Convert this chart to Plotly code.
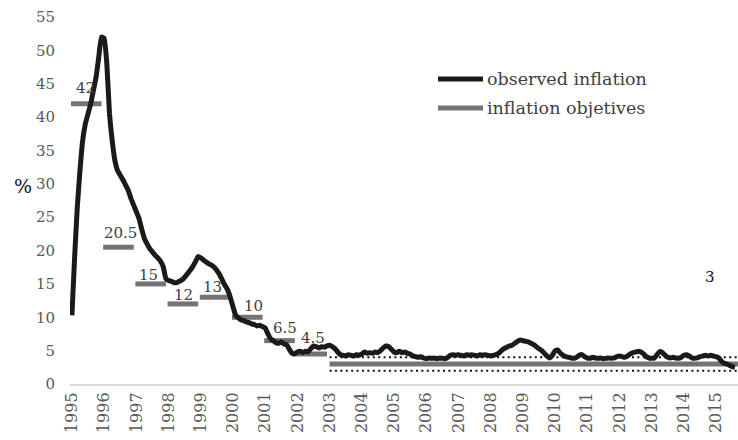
import plotly.graph_objects as go

# ---------------- data ----------------
start_year = 1995
observed = [
    10.3, 19.0, 26.5, 32.0, 36.5, 39.0, 40.5, 42.0, 44.0, 46.0, 49.0, 52.0,
    51.8, 48.0, 40.5, 36.5, 33.5, 32.0, 31.3, 30.6, 29.8, 29.0, 27.8, 26.8,
    25.8, 24.8, 23.2, 21.8, 21.0, 20.3, 19.8, 19.3, 18.9, 18.4, 17.6, 15.8,
    15.5, 15.4, 15.2, 15.2, 15.4, 15.6, 16.0, 16.5, 17.0, 17.6, 18.3, 19.1,
    18.9, 18.6, 18.3, 18.0, 17.8, 17.5, 17.0, 16.4, 15.6, 14.8, 14.1, 13.0,
    11.6, 10.3, 9.9, 9.6, 9.5, 9.3, 9.2, 9.0, 8.9, 8.7, 8.8, 8.6,
    8.4, 7.5, 6.8, 6.5, 6.2, 6.1, 6.3, 6.0, 5.9, 5.2, 4.6, 4.5,
    4.8, 4.9, 4.7, 4.9, 4.8, 5.3, 5.7, 5.6, 5.4, 5.6, 5.5, 5.7,
    5.8, 5.6, 5.3, 4.8, 4.4, 4.3, 4.2, 4.4, 4.3, 4.2, 4.4, 4.3,
    4.5, 4.8, 4.6, 4.7, 4.6, 4.8, 4.7, 5.0, 5.4, 5.7, 5.6, 5.2,
    4.8, 4.7, 4.9, 4.7, 4.8, 4.6, 4.5, 4.2, 4.1, 4.0, 4.1, 3.9,
    3.8, 3.9, 3.85, 3.9, 3.8, 3.9, 3.85, 3.8, 4.0, 4.3, 4.4, 4.3,
    4.4, 4.3, 4.2, 4.4, 4.3, 4.4, 4.3, 4.2, 4.4, 4.3, 4.4, 4.3,
    4.2, 4.3, 4.4, 4.6, 5.0, 5.3, 5.5, 5.7, 5.8, 6.1, 6.4, 6.6,
    6.5, 6.4, 6.3, 6.1, 5.9, 5.6, 5.3, 5.0, 4.6, 4.2, 3.9, 4.3,
    5.0, 5.1, 4.6, 4.3, 4.1, 4.0, 3.9, 3.85, 4.0, 4.3, 4.4, 4.1,
    3.9, 3.85, 4.0, 3.9, 3.85, 3.9, 3.8, 3.85, 3.9, 3.85, 3.9, 4.1,
    4.2, 4.1, 4.0, 4.2, 4.5, 4.7, 4.8, 4.9, 4.8, 4.5, 4.1, 3.9,
    3.85, 3.9, 4.4, 4.85, 4.7, 4.3, 4.0, 3.9, 4.0, 3.9, 3.85, 4.0,
    4.3, 4.4, 4.2, 3.9, 3.85, 3.9, 4.1, 4.2, 4.3, 4.2, 4.3, 4.2,
    4.1, 3.9, 3.4, 3.1, 3.0, 2.8, 2.6, 2.5,
]
target_years = [1995, 1996, 1997, 1998, 1999, 2000, 2001, 2002, 2003]
target_values = [42, 20.5, 15, 12, 13, 10, 6.5, 4.5, 3]
target_labels = ["42", "20.5", "15", "12", "13", "10", "6.5", "4.5", "3"]
band_low = 2
band_high = 4
tick_years = list(range(1995, 2016))

# ---------------- figure ----------------
x_min, x_max = 1994.94, 2015.68
months = [start_year + i / 12 for i in range(len(observed))]

fig = go.Figure()

# target segments
tx, ty = [], []
for i, (yr, v) in enumerate(zip(target_years, target_values)):
    x0 = yr - 0.03
    x1 = (target_years[i + 1] - 0.08) if i + 1 < len(target_years) else x_max
    if i == len(target_years) - 1:
        x0 = yr
    tx += [x0, x1, None]
    ty += [v, v, None]
fig.add_trace(go.Scatter(x=tx, y=ty, mode="lines",
                         line=dict(color="#737373", width=5),
                         hoverinfo="skip", showlegend=False))

# tolerance bands
for b in (band_low, band_high):
    fig.add_trace(go.Scatter(x=[target_years[-1], x_max], y=[b, b], mode="lines",
                             line=dict(color="#111111", width=2, dash="2px,3.4px"),
                             hoverinfo="skip", showlegend=False))

# observed inflation
fig.add_trace(go.Scatter(x=months, y=observed, mode="lines",
                         line=dict(color="#1a1a1a", width=5, shape="spline", smoothing=0.4),
                         showlegend=False))

# target labels
label_dx = [0.43, 0.5, 0.39, 0.46, 0.36, 0.64, 0.63, 0.47, 11.81]
label_dy = [2.4, 2.1, 1.3, 1.3, 1.6, 1.7, 1.9, 2.4, 13.0]
font_family = "DejaVu Serif"
for yr, v, lab, dx, dy in zip(target_years, target_values, target_labels, label_dx, label_dy):
    fig.add_annotation(x=yr + dx, y=v + dy, text=lab, showarrow=False,
                       font=dict(family=font_family, size=15,
                                 color="#111111" if lab == "3" else "#404040"),
                       xanchor="center", yanchor="middle")

# manual legend (paper coords computed from plot area)
L, R, T, B = 70, 738, 17, 384
W, H = R - L, B - T
def px(xp):
    return (xp - L) / W
def py(yp):
    return (B - yp) / H

for ypix, col, name in [(79, "#1a1a1a", "observed inflation"),
                        (108, "#737373", "inflation objetives")]:
    fig.add_shape(type="line", xref="paper", yref="paper",
                  x0=px(438), x1=px(483), y0=py(ypix), y1=py(ypix),
                  line=dict(color=col, width=5))
    fig.add_annotation(xref="paper", yref="paper", x=px(485), y=py(ypix),
                       text=name, showarrow=False, xanchor="left", yanchor="middle",
                       font=dict(family=font_family, size=17.5, color="#404040"))

# % label
fig.add_annotation(xref="paper", yref="paper", x=px(23), y=py(186), text="%",
                   showarrow=False, xanchor="center", yanchor="middle",
                   font=dict(family=font_family, size=19, color="#111111"))

fig.update_layout(
    width=738, height=440,
    margin=dict(l=L, r=738 - R, t=T, b=440 - B, autoexpand=False),
    paper_bgcolor="white", plot_bgcolor="white",
    font=dict(family=font_family, color="#595959"),
    showlegend=False,
    xaxis=dict(range=[x_min, x_max], tickmode="array", tickvals=tick_years,
               ticktext=[str(y) for y in tick_years], tickangle=-90,
               showgrid=False, zeroline=False, showline=True,
               linecolor="#d9d9d9", linewidth=2, ticks="",
               tickfont=dict(family=font_family, size=16, color="#595959"),
               ticklabelstandoff=0),
    yaxis=dict(range=[0, 55], dtick=5, showgrid=False, zeroline=False,
               showline=False, ticks="",
               tickfont=dict(family=font_family, size=15, color="#595959"),
               ticklabelstandoff=14),
)

fig.write_html("out.html", config={"displayModeBar": False},
               post_script="document.body.style.margin='0px';document.body.style.overflow='hidden';")
